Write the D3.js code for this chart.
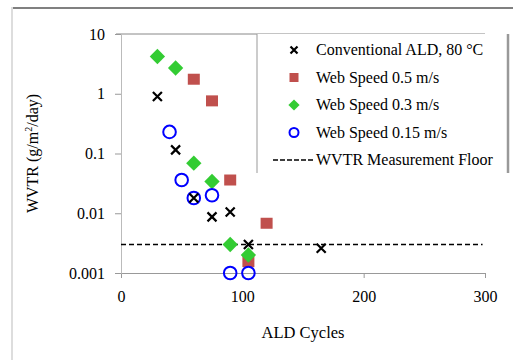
<!DOCTYPE html>
<html>
<head>
<meta charset="utf-8">
<script src="https://cdn.jsdelivr.net/npm/d3@7"></script>
<style>
body { margin: 0; background: #fff; }
</style>
</head>
<body>
<div id="my_dataviz"></div>
<script>
// data
var convX = [30, 45, 60, 75, 90, 105, 165];
var convY = [0.9, 0.115, 0.018, 0.0087, 0.0105, 0.003, 0.0026];
var ws05X = [60, 75, 90, 120, 105];
var ws05Y = [1.75, 0.76, 0.036, 0.0068, 0.00155];
var ws03X = [30, 45, 60, 75, 90, 105];
var ws03Y = [4.2, 2.7, 0.069, 0.034, 0.003, 0.002];
var ws015X = [40, 50, 60, 75, 90, 105];
var ws015Y = [0.23, 0.036, 0.018, 0.02, 0.001, 0.001];
var floorY = 0.003;
var xTicks = [0, 100, 200, 300];
var yTicks = [0.001, 0.01, 0.1, 1, 10];
var legendLabels = ["Conventional ALD, 80 °C", "Web Speed 0.5 m/s", "Web Speed 0.3 m/s", "Web Speed 0.15 m/s", "WVTR Measurement Floor"];

var FONT = "Liberation Serif";
var W = 513, H = 360;
var margin = {top: 34, right: 28, bottom: 87, left: 121},
  width = W - margin.left - margin.right,
  height = H - margin.top - margin.bottom;

var root = d3.select("#my_dataviz")
  .append("svg")
  .attr("width", W)
  .attr("height", H)
  .attr("font-family", FONT);

// outer frame of the scanned figure
root.append("line").attr("x1", 11).attr("x2", W).attr("y1", 8).attr("y2", 8)
  .attr("stroke", "#808080").attr("stroke-width", 2);
root.append("line").attr("x1", 12).attr("x2", 12).attr("y1", 7).attr("y2", H)
  .attr("stroke", "#dddddd").attr("stroke-width", 2);

var svg = root.append("g")
  .attr("transform", "translate(" + margin.left + "," + margin.top + ")");

var x = d3.scaleLinear().domain([0, 300]).range([0, width]);
var y = d3.scaleLog().domain([0.001, 10]).range([height, 0]);

// plot frame
svg.append("line").attr("x1", 0).attr("x2", width).attr("y1", 0).attr("y2", 0)
  .attr("stroke", "#888").attr("stroke-width", 1);
svg.append("line").attr("x1", -5).attr("x2", 0).attr("y1", 0).attr("y2", 0)
  .attr("stroke", "#888");

var xAxis = svg.append("g")
  .attr("transform", "translate(0," + height + ")")
  .call(d3.axisBottom(x).tickValues(xTicks).tickSize(5).tickPadding(13).tickFormat(d3.format("d")));
var yAxis = svg.append("g")
  .call(d3.axisLeft(y).tickValues(yTicks).tickSize(6).tickPadding(10)
    .tickFormat(function(d) { return d >= 1 ? d3.format("d")(d) : String(d); }));

[xAxis, yAxis].forEach(function(a) {
  a.attr("font-family", FONT);
  a.select(".domain").attr("stroke", "#999");
  a.selectAll(".tick line").attr("stroke", "#999");
  a.selectAll("text").attr("font-size", 16).attr("font-family", FONT).attr("fill", "#000");
});
yAxis.select(".domain").attr("stroke", "#bbb");

// axis titles
svg.append("text")
  .attr("x", width / 2).attr("y", height + 65)
  .attr("text-anchor", "middle").attr("font-size", 16.5).attr("font-family", FONT)
  .text("ALD Cycles");
var yl = svg.append("text")
  .attr("transform", "translate(" + (-83) + "," + (height / 2) + ") rotate(-90)")
  .attr("text-anchor", "middle").attr("font-size", 16).attr("font-family", FONT);
yl.append("tspan").text("WVTR (g/m");
yl.append("tspan").attr("font-size", 10).attr("dy", -6).text("2");
yl.append("tspan").attr("dy", 6).text("/day)");

// measurement floor
svg.append("line")
  .attr("x1", x(0)).attr("x2", x(298))
  .attr("y1", y(floorY)).attr("y2", y(floorY))
  .attr("stroke", "#000").attr("stroke-width", 1.5)
  .attr("stroke-dasharray", "5,3");

function zip(a, b) { return a.map(function(v, i) { return [v, b[i]]; }); }

function drawX(g, cx, cy, s) {
  g.append("path")
    .attr("d", "M" + (cx - s) + "," + (cy - s) + "L" + (cx + s) + "," + (cy + s) +
      "M" + (cx - s) + "," + (cy + s) + "L" + (cx + s) + "," + (cy - s))
    .attr("stroke", "#000").attr("stroke-width", 2.2).attr("fill", "none");
}

var diamond = d3.symbol().type(d3.symbolDiamond2);

// 0.5 m/s squares
svg.selectAll(".sq").data(zip(ws05X, ws05Y)).enter().append("rect")
  .attr("x", function(d) { return x(d[0]) - 6; })
  .attr("y", function(d) { return y(d[1]) - 5.5; })
  .attr("width", 12).attr("height", 11)
  .attr("fill", "#c0504d");

// 0.3 m/s diamonds
svg.selectAll(".dm").data(zip(ws03X, ws03Y)).enter().append("path")
  .attr("d", diamond.size(150))
  .attr("transform", function(d) { return "translate(" + x(d[0]) + "," + y(d[1]) + ")"; })
  .attr("fill", "#33cc33");

// 0.15 m/s circles
svg.selectAll(".ci").data(zip(ws015X, ws015Y)).enter().append("circle")
  .attr("cx", function(d) { return x(d[0]); })
  .attr("cy", function(d) { return y(d[1]); })
  .attr("r", 6.3)
  .attr("fill", "none").attr("stroke", "#0000ff").attr("stroke-width", 2);

// conventional ALD crosses
zip(convX, convY).forEach(function(d) { drawX(svg, x(d[0]), y(d[1]), 4.5); });

// legend
var lg = root.append("g");
var lx0 = 257, lx1 = 508, ly0 = 34, ly1 = 173;
lg.append("rect").attr("x", lx0).attr("y", ly0).attr("width", lx1 - lx0).attr("height", ly1 - ly0)
  .attr("fill", "#fff");
lg.append("line").attr("x1", lx0).attr("x2", lx0).attr("y1", ly0).attr("y2", ly1)
  .attr("stroke", "#999").attr("stroke-width", 1);
lg.append("line").attr("x1", lx1).attr("x2", lx1).attr("y1", ly0).attr("y2", ly1)
  .attr("stroke", "#999").attr("stroke-width", 2.5);

var rowY = d3.scalePoint().domain(d3.range(legendLabels.length)).range([50, 160]);
var mx = 294;
legendLabels.forEach(function(t, i) {
  var cy = rowY(i);
  lg.append("text").attr("x", 316).attr("y", cy + 5).attr("font-size", 16)
    .attr("font-family", FONT).text(t);
  if (i === 0) drawX(lg, mx, cy, 3.5);
  if (i === 1) lg.append("rect").attr("x", mx - 4.5).attr("y", cy - 4.5).attr("width", 9).attr("height", 9).attr("fill", "#c0504d");
  if (i === 2) lg.append("path").attr("d", diamond.size(80)).attr("transform", "translate(" + mx + "," + cy + ")").attr("fill", "#33cc33");
  if (i === 3) lg.append("circle").attr("cx", mx).attr("cy", cy).attr("r", 4.5).attr("fill", "none").attr("stroke", "#0000ff").attr("stroke-width", 2);
  if (i === 4) lg.append("line").attr("x1", 273).attr("x2", 315).attr("y1", cy).attr("y2", cy)
    .attr("stroke", "#000").attr("stroke-width", 1.5).attr("stroke-dasharray", "5,2");
});
</script>
</body>
</html>
